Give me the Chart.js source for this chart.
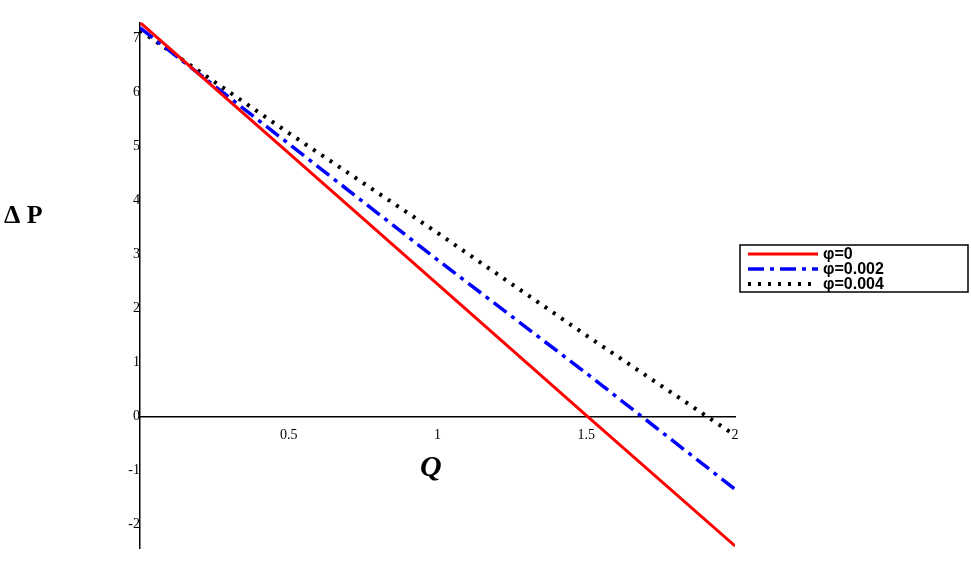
<!DOCTYPE html>
<html><head><meta charset="utf-8">
<script src="https://cdn.jsdelivr.net/npm/chart.js@4/dist/chart.umd.min.js"></script>
<style>html,body{margin:0;background:#fff}#wrap{width:971px;height:571px}</style>
</head><body><div id="wrap"><canvas id="c"></canvas></div>
<script>
const qValues = [0, 0.5, 1, 1.5, 2];
const dpPhi0 = [7.3, 4.88, 2.45, 0.02, -2.4];
const dpPhi002 = [7.2, 5.05, 2.9, 0.8, -1.35];
const dpPhi004 = [7.15, 5.25, 3.4, 1.5, -0.35];
const seriesNames = ["φ=0", "φ=0.002", "φ=0.004"];
const xTicks = [0.5, 1, 1.5, 2];
const yTicks = [-2, -1, 0, 1, 2, 3, 4, 5, 6, 7];

const styles = [
  {color: "#ff0000", dash: [], width: 3},
  {color: "#0000ff", dash: [16, 6, 4, 6], width: 3.5},
  {color: "#000000", dash: [3, 7], width: 4}
];
const seriesData = [dpPhi0, dpPhi002, dpPhi004];

const extras = {
  id: "extras",
  afterDraw(chart) {
    const ctx = chart.ctx;
    ctx.save();
    ctx.fillStyle = "#000";
    ctx.font = "bold 26px 'Liberation Serif'";
    ctx.textBaseline = "middle";
    ctx.fillText("Δ P", 4, 216);
    ctx.font = "italic bold 30px 'Liberation Serif'";
    ctx.fillText("Q", 420, 468);
    // legend
    const lx = 740, ly = 245, lw = 228, lh = 47;
    ctx.strokeStyle = "#000"; ctx.lineWidth = 1.5;
    ctx.strokeRect(lx, ly, lw, lh);
    ctx.font = "bold 16px 'Liberation Sans'";
    seriesNames.forEach((n, i) => {
      const y = ly + 9 + i * 15;
      const s = styles[i];
      ctx.beginPath();
      ctx.strokeStyle = s.color; ctx.lineWidth = s.width; ctx.setLineDash(s.dash);
      ctx.moveTo(lx + 8, y); ctx.lineTo(lx + 78, y); ctx.stroke();
      ctx.setLineDash([]);
      ctx.fillStyle = "#000";
      ctx.fillText(n, lx + 83, y + 1);
    });
    ctx.restore();
  }
};

new Chart(document.getElementById("c"), {
  type: "line",
  data: {
    datasets: seriesData.map((d, i) => ({
      label: seriesNames[i],
      data: qValues.map((q, j) => ({x: q, y: d[j]})),
      borderColor: styles[i].color,
      borderDash: styles[i].dash,
      borderWidth: styles[i].width,
      pointRadius: 0,
      tension: 0
    }))
  },
  options: {
    responsive: true,
    maintainAspectRatio: false,
    animation: false,
    layout: {padding: {left: 140, right: 236, top: 3, bottom: 4}},
    plugins: {legend: {display: false}, tooltip: {enabled: false}},
    scales: {
      x: {
        type: "linear", min: 0, max: 2,
        position: {y: 0},
        afterBuildTicks: s => { s.ticks = xTicks.map(v => ({value: v})); },
        grid: {display: false, drawTicks: true, tickLength: 5},
        border: {color: "#000", width: 1.5},
        ticks: {color: "#000", padding: 6, font: {size: 14, family: "Liberation Serif"}, maxRotation: 0,
          callback: v => String(v)}
      },
      y: {
        type: "linear", min: -2.45, max: 7.3,
        position: {x: 0},
        afterBuildTicks: s => { s.ticks = yTicks.map(v => ({value: v})); },
        grid: {display: false, drawTicks: true, tickLength: 5},
        border: {color: "#000", width: 1.5},
        ticks: {color: "#000", padding: 14, font: {size: 14, family: "Liberation Serif"},
          callback: v => String(v)}
      }
    }
  },
  plugins: [extras]
});
</script></body></html>
